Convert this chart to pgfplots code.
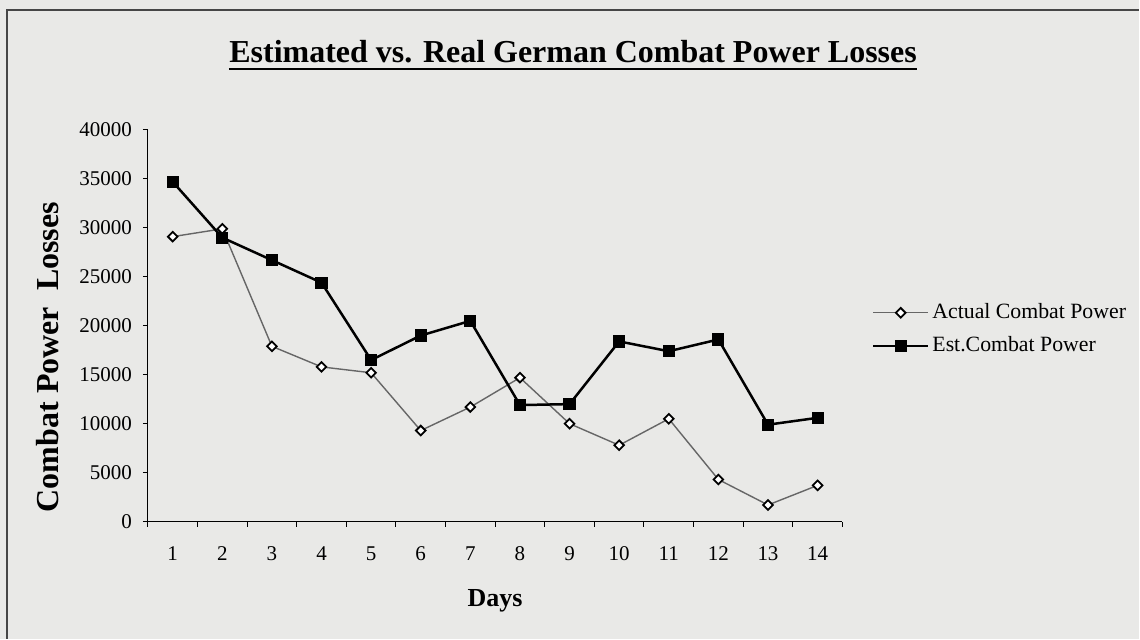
\documentclass[border=0pt]{standalone}
\usepackage{pgfplots}
\pgfplotsset{compat=1.18}
\usepackage{fontspec}
\setmainfont{Liberation Serif}
\definecolor{bg}{RGB}{233,233,231}
\definecolor{framec}{RGB}{70,70,70}
\begin{document}
\begin{tikzpicture}
\fill[bg] (0,0) rectangle (570pt,319.5pt);
\draw[framec, line width=0.8pt] (3.5pt,0) -- (3.5pt,314.5pt) -- (570pt,314.5pt);
\node[font=\fontsize{16}{19}\selectfont\bfseries, anchor=base, inner sep=0pt] (T) at (286.75pt,288pt) {Estimated vs. Real German Combat Power Losses};
\draw[line width=1pt] ([yshift=-2.8pt]T.base west) -- ([yshift=-2.8pt]T.base east);
\begin{axis}[
  at={(74pt,58.5pt)}, anchor=south west,
  scale only axis, width=347.5pt, height=196pt,
  xmin=0.5, xmax=14.5, ymin=0, ymax=40000,
  axis x line=bottom, axis y line=left,
  axis line style={-, line width=0.6pt},
  xtick={0.5,1.5,2.5,3.5,4.5,5.5,6.5,7.5,8.5,9.5,10.5,11.5,12.5,13.5,14.5},
  x tick label as interval,
  xticklabels={1,2,3,4,5,6,7,8,9,10,11,12,13,14},
  ytick={0,5000,10000,15000,20000,25000,30000,35000,40000},
  scaled y ticks=false,
  tick align=outside, major tick length=2.5pt,
  tick style={black, line width=0.5pt},
  /pgf/number format/.cd, 1000 sep={}, assume math mode=true,
  /pgfplots/.cd,
  ticklabel style={font=\fontsize{10.5}{12}\selectfont},
  xticklabel style={yshift=-6.5pt},
  yticklabel style={xshift=-2pt},
  xlabel={Days},
  xlabel style={font=\fontsize{13}{15}\selectfont\bfseries, at={(axis description cs:0.5,-0.201)}, anchor=center},
  ylabel={Combat Power~ Losses},
  ylabel style={font=\fontsize{16}{19}\selectfont\bfseries, at={(axis description cs:-0.144,0.42)}, anchor=center},
  legend style={at={(axis description cs:1.042,0.565)}, anchor=north west, draw=none, fill=none,
    font=\fontsize{10.9}{13}\selectfont, row sep=4.5pt, inner sep=0pt, nodes={inner sep=1.5pt}},
  legend cell align=left,
  legend image code/.code={\draw[mark repeat=2,mark phase=2] plot coordinates {(0pt,0pt) (13.75pt,0pt) (27.5pt,0pt)};},
  clip=false,
]
\addplot[color=black!60, line width=0.7pt, mark=square*, mark size=1.7pt,
  mark options={rotate=45, fill=white, draw=black, line width=0.9pt, solid}]
  coordinates {(1,29100) (2,29900) (3,17900) (4,15800) (5,15200) (6,9300) (7,11700)
               (8,14700) (9,10000) (10,7800) (11,10500) (12,4300) (13,1700) (14,3700)};
\addlegendentry{Actual Combat Power}
\addplot[color=black, line width=1.25pt, mark=square*, mark size=2.8pt,
  mark options={fill=black, draw=black, line width=0.5pt, solid}]
  coordinates {(1,34700) (2,29000) (3,26700) (4,24400) (5,16500) (6,19000) (7,20500)
               (8,11900) (9,12000) (10,18400) (11,17400) (12,18600) (13,9900) (14,10600)};
\addlegendentry{Est.Combat Power}
\end{axis}
\end{tikzpicture}
\end{document}
